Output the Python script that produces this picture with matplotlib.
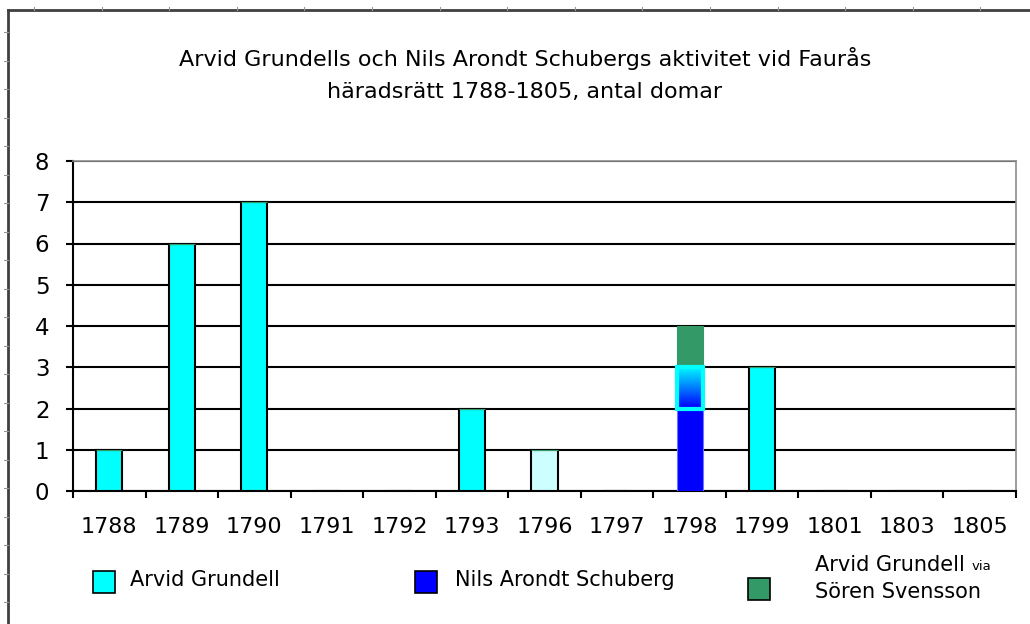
import matplotlib
matplotlib.use("Agg")
import matplotlib.pyplot as plt
from matplotlib.colors import LinearSegmentedColormap
from matplotlib.lines import Line2D
from matplotlib.patches import Rectangle
import numpy as np

years = ['1788', '1789', '1790', '1791', '1792', '1793', '1796',
         '1797', '1798', '1799', '1801', '1803', '1805']
arvid = [1, 6, 7, 0, 0, 2, 1, 0, 1, 3, 0, 0, 0]
nils = [0, 0, 0, 0, 0, 0, 0, 0, 2, 0, 0, 0, 0]
soren = [0, 0, 0, 0, 0, 0, 0, 0, 1, 0, 0, 0, 0]

title = "Arvid Grundells och Nils Arondt Schubergs aktivitet vid Faurås\nhäradsrätt 1788-1805, antal domar"

CYAN = '#00FFFF'
LIGHT = '#CCFFFF'
BLUE = '#0000FF'
GREEN = '#339966'

W, H = 1030, 624
fig = plt.figure(figsize=(W / 100, H / 100), dpi=100)
fig.patch.set_facecolor('white')

ax = fig.add_axes([73 / W, 1 - 491 / H, (1016 - 73) / W, (491 - 161) / H])

x = np.arange(len(years))
width = 0.36

# nils at bottom, then arvid, then soren
nb = ax.bar(x, nils, width, color=BLUE, edgecolor='#7070ff', linewidth=0.8, zorder=3)
arvid_colors = [CYAN] * len(years)
arvid_colors[years.index('1796')] = LIGHT
ab = ax.bar(x, arvid, width, bottom=nils, color=arvid_colors,
            edgecolor='black', linewidth=1.5, zorder=3)
bottom2 = np.array(nils) + np.array(arvid)
sb = ax.bar(x, soren, width, bottom=bottom2, color=GREEN,
            edgecolor=GREEN, linewidth=0.8, zorder=3)

# gradient fill for the 1798 arvid segment
i98 = years.index('1798')
r = ab.patches[i98]
r.set_facecolor('none')
r.set_edgecolor(CYAN)
r.set_linewidth(3)
r.set_zorder(5)
cmap = LinearSegmentedColormap.from_list('cb', [BLUE, CYAN])
grad = np.linspace(0, 1, 100).reshape(-1, 1)
ax.imshow(grad, extent=[r.get_x(), r.get_x() + r.get_width(), r.get_y(), r.get_y() + r.get_height()],
          aspect='auto', cmap=cmap, origin='lower', zorder=4)

ax.set_xlim(-0.5, len(years) - 0.5)
ax.set_ylim(0, 8)

# gridlines
ax.set_yticks(range(0, 9))
ax.yaxis.grid(True, color='black', linewidth=1.5, zorder=1)
ax.set_axisbelow(True)

ax.set_xticks(np.arange(-0.5, len(years)), minor=False)
ax.set_xticklabels([])
ax.set_xticks(x, minor=True)
ax.set_xticklabels(years, minor=True)
ax.tick_params(axis='x', which='major', direction='out', length=5, width=1.5, color='black')
ax.tick_params(axis='x', which='minor', length=0, pad=19, labelsize=16)
ax.tick_params(axis='y', direction='out', length=5, width=1.5, pad=12, labelsize=16.5)

for s in ['left', 'bottom']:
    ax.spines[s].set_color('black')
    ax.spines[s].set_linewidth(1.5)
for s in ['top', 'right']:
    ax.spines[s].set_color('#8c8c8c')
    ax.spines[s].set_linewidth(1.2)

fig.text(525 / W, 1 - 74 / H, title, ha='center', va='center', fontsize=16,
         linespacing=1.75)

# legend, drawn by hand
legend_items = [('Arvid Grundell', CYAN, 93, 130),
                ('Nils Arondt Schuberg', BLUE, 415, 455),
                ('Sören Svensson', GREEN, 748, 815)]
for label, col, sx, tx in legend_items:
    sy = 571 if col != GREEN else 578
    fig.patches.append(Rectangle((sx / W, 1 - (sy + 22) / H), 22 / W, 22 / H,
                                 transform=fig.transFigure, facecolor=col,
                                 edgecolor='black', linewidth=1.2))
    if col == GREEN:
        fig.text(tx / W, 1 - 592 / H, label, ha='left', va='center', fontsize=15)
        t = fig.text(tx / W, 1 - 565 / H, 'Arvid Grundell ', ha='left', va='center', fontsize=15)
        fig.canvas.draw()
        bb = t.get_window_extent()
        fig.text(bb.x1 / W, 1 - 567 / H, 'via', ha='left', va='center', fontsize=9.5)
    else:
        fig.text(tx / W, 1 - 580 / H, label, ha='left', va='center', fontsize=15)

# outer frame with ruler ticks
fig.lines.append(Line2D([8 / W, 8 / W], [0, 1 - 10 / H], transform=fig.transFigure,
                        color='#404040', linewidth=2))
fig.lines.append(Line2D([8 / W, 1], [1 - 10 / H, 1 - 10 / H], transform=fig.transFigure,
                        color='#404040', linewidth=2))
for px in np.arange(34, W, 67.6):
    fig.lines.append(Line2D([px / W, px / W], [1 - 10 / H, 1 - 7 / H], transform=fig.transFigure,
                            color='#999999', linewidth=0.8))
for py in np.arange(32, H, 28.5):
    fig.lines.append(Line2D([4 / W, 8 / W], [1 - py / H, 1 - py / H], transform=fig.transFigure,
                            color='#999999', linewidth=0.8))

fig.savefig('out.png', dpi=100)
